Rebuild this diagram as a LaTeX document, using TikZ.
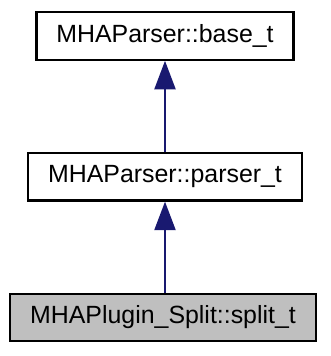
\documentclass[tikz,border=0pt]{standalone}
\usepackage{fontspec}
\setmainfont{Liberation Sans}
\usetikzlibrary{arrows.meta, positioning}
\definecolor{edgeblue}{HTML}{191970}
\definecolor{boxgray}{HTML}{BFBFBF}

\begin{document}
\begin{tikzpicture}[
  x=1pt, y=-1pt,
  node distance=91pt,
  cls/.style={rectangle, draw=black, line width=2.3pt, fill=white, inner xsep=20pt,
              minimum height=47.5pt, font=\fontsize{24.9}{30}\selectfont},
  inherit/.style={-{Triangle[length=28.5pt, width=21pt]}, draw=edgeblue, line width=2.1pt},
]
\useasboundingbox (0,0) rectangle (330,356);
\node[cls, fill=boxgray] (split) at (163,317.5) {MHAPlugin\_Split::split\_t};
\node[cls, above=of split, xshift=2pt] (parser) {MHAParser::parser\_t};
\node[cls, above=of parser] (base) {MHAParser::base\_t};
\draw[inherit] (split.north -| parser.south) -- (parser);
\draw[inherit] (parser) -- (base);
\end{tikzpicture}
\end{document}
